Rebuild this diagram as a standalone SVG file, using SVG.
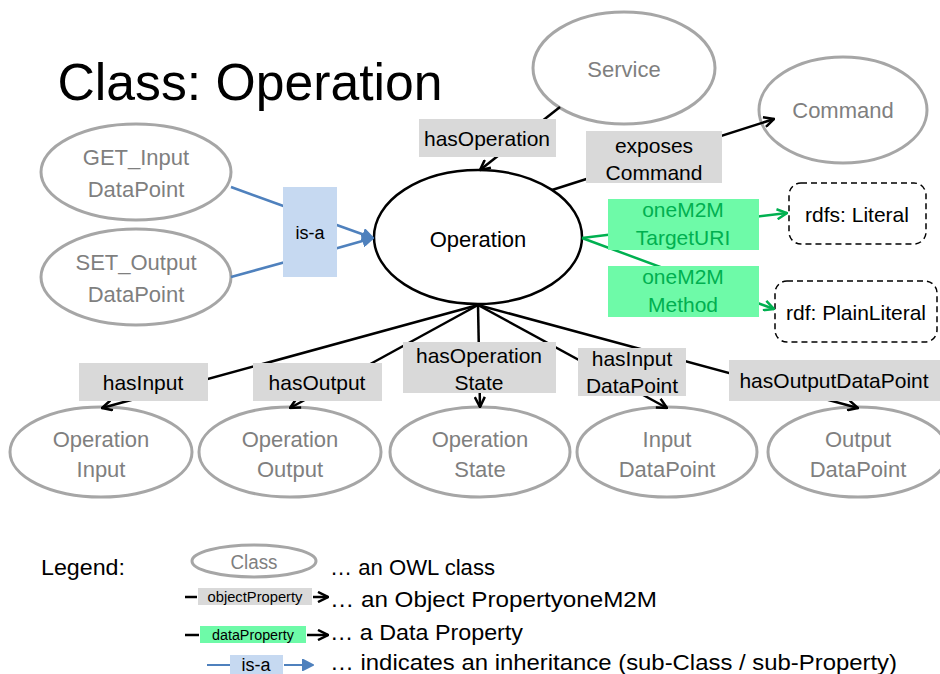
<svg xmlns="http://www.w3.org/2000/svg" width="940" height="674" viewBox="0 0 940 674">
<style>
text{font-family:"Liberation Sans",Arial,sans-serif;text-anchor:middle}
.cls{fill:#fff;stroke:#a6a6a6;stroke-width:3}
.ct{font-size:22px;fill:#7f7f7f}
.bt{font-size:22px;fill:#000}
.lb{fill:#d9d9d9}
.lt{font-size:21px;fill:#000}
.db{fill:#6efaa8}
.dt{font-size:21px;fill:#00b050}
.ib{fill:#c6d9f1}
.it{font-size:18px;fill:#000}
.obj{stroke:#000;stroke-width:2.5;fill:none}
.dp{stroke:#00b050;stroke-width:2.5;fill:none}
.inh{stroke:#4f81bd;stroke-width:2.5;fill:none}
.lit{fill:#fff;stroke:#000;stroke-width:1.5;stroke-dasharray:6 4}
.leg{font-size:22px;fill:#000;text-anchor:start}
</style>
<defs>
<marker id="ab" viewBox="0 0 12 12" refX="11" refY="6" markerWidth="12" markerHeight="12" markerUnits="userSpaceOnUse" orient="auto"><path d="M1,1 L11,6 L1,11" fill="none" stroke="#000" stroke-width="2.5"/></marker>
<marker id="ag" viewBox="0 0 12 12" refX="11" refY="6" markerWidth="12" markerHeight="12" markerUnits="userSpaceOnUse" orient="auto"><path d="M1,1 L11,6 L1,11" fill="none" stroke="#00b050" stroke-width="2.5"/></marker>
<marker id="ai" viewBox="0 0 12 12" refX="11" refY="6" markerWidth="12" markerHeight="12" markerUnits="userSpaceOnUse" orient="auto"><path d="M1,1 L11,6 L1,11 Z" fill="#4f81bd" stroke="#4f81bd" stroke-width="2"/></marker>
</defs>
<rect width="940" height="674" fill="#fff"/>
<text x="250" y="100" style="font-size:52px;fill:#000" textLength="385" lengthAdjust="spacingAndGlyphs">Class: Operation</text>

<g id="node-operation">
<ellipse cx="478" cy="237" rx="104" ry="67" fill="#fff" stroke="#000" stroke-width="2.5"/>
<text class="bt" x="478" y="247">Operation</text>
</g>
<g id="node-service">
<ellipse class="cls" cx="624" cy="68" rx="91" ry="56"/>
<text class="ct" x="624" y="77">Service</text>
</g>
<g id="node-command">
<ellipse class="cls" cx="843" cy="110" rx="84" ry="53"/>
<text class="ct" x="843" y="118">Command</text>
</g>
<g id="node-get-input">
<ellipse class="cls" cx="136" cy="172" rx="95" ry="48"/>
<text class="ct" x="136" y="165">GET_Input</text>
<text class="ct" x="136" y="197">DataPoint</text>
</g>
<g id="node-set-output">
<ellipse class="cls" cx="136" cy="277" rx="95" ry="48"/>
<text class="ct" x="136" y="270">SET_Output</text>
<text class="ct" x="136" y="302">DataPoint</text>
</g>
<g id="node-rdfs-literal">
<rect class="lit" x="789" y="183" width="137" height="61" rx="12"/>
<text class="lt" x="857" y="222">rdfs: Literal</text>
</g>
<g id="node-rdf-plainliteral">
<rect class="lit" x="775" y="281" width="162" height="61" rx="12"/>
<text class="lt" x="856" y="320">rdf: PlainLiteral</text>
</g>
<g id="node-operation-input">
<ellipse class="cls" cx="101" cy="452" rx="91" ry="45"/>
<text class="ct" x="101" y="447">Operation</text>
<text class="ct" x="101" y="477">Input</text>
</g>
<g id="node-operation-output">
<ellipse class="cls" cx="290" cy="452" rx="91" ry="45"/>
<text class="ct" x="290" y="447">Operation</text>
<text class="ct" x="290" y="477">Output</text>
</g>
<g id="node-operation-state">
<ellipse class="cls" cx="480" cy="452" rx="90" ry="45"/>
<text class="ct" x="480" y="447">Operation</text>
<text class="ct" x="480" y="477">State</text>
</g>
<g id="node-input-datapoint">
<ellipse class="cls" cx="667" cy="452" rx="90" ry="45"/>
<text class="ct" x="667" y="447">Input</text>
<text class="ct" x="667" y="477">DataPoint</text>
</g>
<g id="node-output-datapoint">
<ellipse class="cls" cx="858" cy="452" rx="90" ry="45"/>
<text class="ct" x="858" y="447">Output</text>
<text class="ct" x="858" y="477">DataPoint</text>
</g>

<g id="connectors">
<line class="obj" x1="560" y1="107" x2="480" y2="170" marker-end="url(#ab)"/>
<line class="obj" x1="552" y1="190" x2="774" y2="119" marker-end="url(#ab)"/>
<line class="dp" x1="582" y1="238" x2="787" y2="213" marker-end="url(#ag)"/>
<line class="dp" x1="582" y1="238" x2="774" y2="309" marker-end="url(#ag)"/>
<line class="inh" x1="231" y1="187" x2="300" y2="212"/>
<line class="inh" x1="231" y1="277" x2="300" y2="258"/>
<line class="inh" x1="320" y1="219" x2="373" y2="238" marker-end="url(#ai)"/>
<line class="inh" x1="320" y1="253" x2="373" y2="238" marker-end="url(#ai)"/>
<line class="obj" x1="478" y1="305" x2="102" y2="408" marker-end="url(#ab)"/>
<line class="obj" x1="478" y1="305" x2="290" y2="408" marker-end="url(#ab)"/>
<line class="obj" x1="478" y1="305" x2="480" y2="407" marker-end="url(#ab)"/>
<line class="obj" x1="478" y1="305" x2="667" y2="408" marker-end="url(#ab)"/>
<line class="obj" x1="478" y1="305" x2="858" y2="408" marker-end="url(#ab)"/>
</g>

<g id="edge-labels">
<rect class="lb" x="419" y="119" width="137" height="38"/>
<text class="lt" x="487" y="146">hasOperation</text>
<rect class="lb" x="586" y="131" width="136" height="52"/>
<text class="lt" x="654" y="153">exposes</text>
<text class="lt" x="654" y="180">Command</text>
<rect class="db" x="608" y="199" width="151" height="51"/>
<text class="dt" x="683" y="217">oneM2M</text>
<text class="dt" x="683" y="245">TargetURI</text>
<rect class="db" x="608" y="266" width="151" height="51"/>
<text class="dt" x="683" y="284">oneM2M</text>
<text class="dt" x="683" y="312">Method</text>
<rect class="ib" x="283" y="187" width="54" height="90"/>
<text class="it" x="310" y="239">is-a</text>
<rect class="lb" x="79" y="363" width="129" height="38"/>
<text class="lt" x="143" y="390">hasInput</text>
<rect class="lb" x="253" y="363" width="129" height="38"/>
<text class="lt" x="317" y="390">hasOutput</text>
<rect class="lb" x="403" y="342" width="153" height="51"/>
<text class="lt" x="479" y="363">hasOperation</text>
<text class="lt" x="479" y="390">State</text>
<rect class="lb" x="578" y="348" width="108" height="48"/>
<text class="lt" x="632" y="366">hasInput</text>
<text class="lt" x="632" y="393">DataPoint</text>
<rect class="lb" x="729" y="360" width="211" height="41"/>
<text class="lt" x="834" y="388">hasOutputDataPoint</text>
</g>

<g id="legend">
<text class="leg" x="41" y="575" textLength="84" lengthAdjust="spacingAndGlyphs">Legend:</text>
<ellipse class="cls" cx="254" cy="561" rx="62" ry="16"/>
<text x="254" y="569" style="font-size:20px;fill:#7f7f7f" textLength="47" lengthAdjust="spacingAndGlyphs">Class</text>
<text class="leg" x="330" y="575" textLength="165" lengthAdjust="spacingAndGlyphs">… an OWL class</text>
<line class="obj" x1="185" y1="597" x2="197" y2="597"/>
<rect class="lb" x="198" y="588" width="114" height="17"/>
<text x="255" y="602" style="font-size:14px;fill:#000" textLength="95" lengthAdjust="spacingAndGlyphs">objectProperty</text>
<line class="obj" x1="313" y1="597" x2="328" y2="597" marker-end="url(#ab)"/>
<text class="leg" x="330" y="607" textLength="327" lengthAdjust="spacingAndGlyphs">… an Object PropertyoneM2M</text>
<line class="obj" x1="185" y1="635" x2="199" y2="635"/>
<rect class="db" x="200" y="626" width="106" height="17"/>
<text x="253" y="640" style="font-size:14px;fill:#000" textLength="82" lengthAdjust="spacingAndGlyphs">dataProperty</text>
<line class="obj" x1="307" y1="635" x2="328" y2="635" marker-end="url(#ab)"/>
<text class="leg" x="330" y="640" textLength="193" lengthAdjust="spacingAndGlyphs">… a Data Property</text>
<line x1="207" y1="665" x2="230" y2="665" stroke="#4f81bd" stroke-width="2"/>
<rect class="ib" x="230" y="655" width="53" height="19"/>
<text x="256" y="671" style="font-size:18px;fill:#000">is-a</text>
<line x1="284" y1="665" x2="313" y2="665" stroke="#4f81bd" stroke-width="2" marker-end="url(#ai)"/>
<text class="leg" x="330" y="670" textLength="567" lengthAdjust="spacingAndGlyphs">… indicates an inheritance (sub-Class / sub-Property)</text>
</g>
</svg>
